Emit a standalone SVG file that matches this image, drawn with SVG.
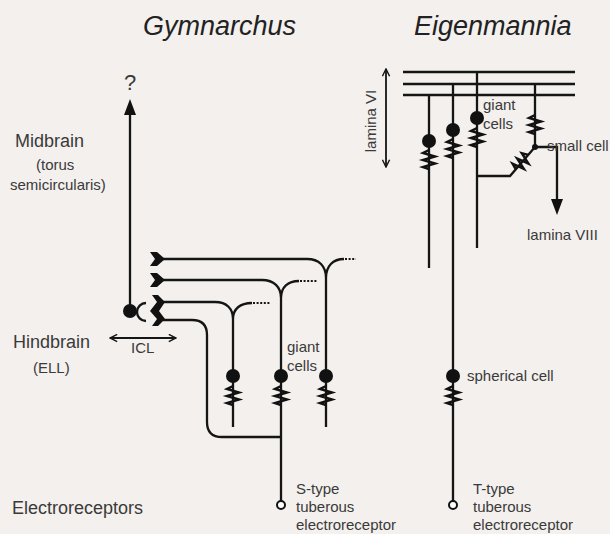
<svg xmlns="http://www.w3.org/2000/svg" xmlns:xlink="http://www.w3.org/1999/xlink" width="610" height="534" viewBox="0 0 610 534">
<style>
.t{font-family:"Liberation Sans",Arial,sans-serif;fill:#3a3a3a;}
.title{font-size:27px;font-style:italic;fill:#222;}
.lg{font-size:18px;}
.sm{font-size:15px;}
.ln{fill:none;stroke:#151515;stroke-width:2.3;}
.thin{fill:none;stroke:#151515;stroke-width:1.8;}
.dot{fill:none;stroke:#151515;stroke-width:2;stroke-dasharray:2 1.6;}
.cell{fill:#111;}
.zz{fill:none;stroke:#111;stroke-width:2.4;stroke-linejoin:miter;}
.rec{fill:#fff;stroke:#111;stroke-width:2;}
.chev{fill:#111;}
</style>
<defs>
<path id="zz" class="zz" d="M0,0 L-6,3 L6,6.5 L-6,10 L6,13.5 L-6,17 L0,19"/>
<marker id="open" viewBox="0 0 10 10" refX="9" refY="5" markerWidth="9" markerHeight="9" markerUnits="userSpaceOnUse" orient="auto-start-reverse">
<path d="M1,1 L9,5 L1,9" fill="none" stroke="#151515" stroke-width="1.6"/>
</marker>
</defs>
<rect width="610" height="534" fill="#f3f0ed"/>

<g id="titles">
<text class="t title" x="143" y="35">Gymnarchus</text>
<text class="t title" x="414" y="35">Eigenmannia</text>
</g>

<g id="labels">
<text class="t" x="130" y="90" font-size="22" text-anchor="middle">?</text>
<text class="t lg" x="15" y="147">Midbrain</text>
<text class="t sm" x="36" y="170">(torus</text>
<text class="t sm" x="10" y="190">semicircularis)</text>
<text class="t lg" x="13" y="348">Hindbrain</text>
<text class="t sm" x="33" y="373">(ELL)</text>
<text class="t sm" x="131" y="353">ICL</text>
<text class="t lg" x="12" y="514">Electroreceptors</text>
<text class="t sm" x="376" y="121" transform="rotate(-90 376 121)" text-anchor="middle" font-size="13">lamina VI</text>
</g>

<g id="connectors">
<path class="ln" d="M130,311 V112"/>
<polygon class="cell" points="130,99 124,115 136,115"/>
<path class="thin" d="M110,338 H176" marker-start="url(#open)" marker-end="url(#open)"/>
<path class="ln" d="M146,303 A9,9 0 0 0 146,321"/>
<path class="ln" d="M163,259 H307 C319,259 326,266 326,278 C326,266 333,259 344,259"/>
<path class="dot" d="M345,259 H356"/>
<path class="ln" d="M326,278 V427"/>
<path class="ln" d="M163,280 H262 C274,280 281,287 281,298 C281,287 288,281 299,281"/>
<path class="dot" d="M300,281 H318"/>
<path class="ln" d="M281,298 V501"/>
<path class="ln" d="M163,302 H215 C227,302 233,309 233,319 C233,309 240,303 252,303"/>
<path class="dot" d="M253,303 H270"/>
<path class="ln" d="M233,319 V427"/>
<path class="ln" d="M163,320 H192 Q207,320 207,335 V422 Q207,437 222,437 H281"/>
<path class="ln" d="M403,72 H575 M403,84 H575 M403,95 H575"/>
<path class="thin" d="M386,69 V167" marker-start="url(#open)" marker-end="url(#open)"/>
<path class="ln" d="M477,72 V248"/>
<path class="ln" d="M453,84 V501"/>
<path class="ln" d="M429,95 V268"/>
<path class="ln" d="M535,84 V147 H557 V202"/>
<polygon class="cell" points="551,199 563,199 557,215"/>
<path class="ln" d="M477,176 H510 L535,147"/>
</g>

<g id="gym-projection-cell"><circle class="cell" cx="130" cy="311" r="7"/></g>
<g id="gym-terminals">
<polygon class="chev" points="150,252 157,252 165,259 157,266 150,266 155,259"/>
<polygon class="chev" points="150,273 157,273 165,280 157,287 150,287 155,280"/>
<polygon class="chev" points="152,295 158,295 165,302 159,311 165,319 158,326 152,326 157,319 150,311 157,302"/>
</g>
<g id="gym-giant-cell-1"><circle class="cell" cx="233" cy="376" r="7"/><use href="#zz" x="233" y="386"/></g>
<g id="gym-giant-cell-2"><circle class="cell" cx="281" cy="376" r="7"/><use href="#zz" x="281" y="386"/>
<text class="t sm" x="287" y="352">giant</text><text class="t sm" x="287" y="371">cells</text></g>
<g id="gym-giant-cell-3"><circle class="cell" cx="326" cy="376" r="7"/><use href="#zz" x="326" y="386"/></g>
<g id="s-type-receptor"><circle class="rec" cx="281" cy="505" r="4"/>
<text class="t sm" x="296" y="494">S-type</text><text class="t sm" x="296" y="512">tuberous</text><text class="t sm" x="296" y="530">electroreceptor</text></g>

<g id="eig-giant-cell-1"><circle class="cell" cx="429" cy="141" r="7"/><use href="#zz" x="429" y="150"/></g>
<g id="eig-giant-cell-2"><circle class="cell" cx="453" cy="130" r="7"/><use href="#zz" x="453" y="139"/></g>
<g id="eig-giant-cell-3"><circle class="cell" cx="477" cy="118" r="7"/><use href="#zz" x="477" y="128"/>
<text class="t sm" x="483" y="110">giant</text><text class="t sm" x="483" y="129">cells</text></g>
<g id="eig-small-cell"><use href="#zz" x="535" y="115"/><circle class="cell" cx="535" cy="147" r="3"/>
<use href="#zz" transform="translate(522,162) rotate(41) translate(0,-9.5)"/>
<text class="t sm" x="547" y="151">small cell</text>
<text class="t sm" x="527" y="240">lamina VIII</text></g>
<g id="eig-spherical-cell"><circle class="cell" cx="453" cy="376" r="7"/><use href="#zz" x="453" y="386"/>
<text class="t sm" x="467" y="381">spherical cell</text></g>
<g id="t-type-receptor"><circle class="rec" cx="453" cy="505" r="4"/>
<text class="t sm" x="473" y="494">T-type</text><text class="t sm" x="473" y="512">tuberous</text><text class="t sm" x="473" y="530">electroreceptor</text></g>
</svg>
